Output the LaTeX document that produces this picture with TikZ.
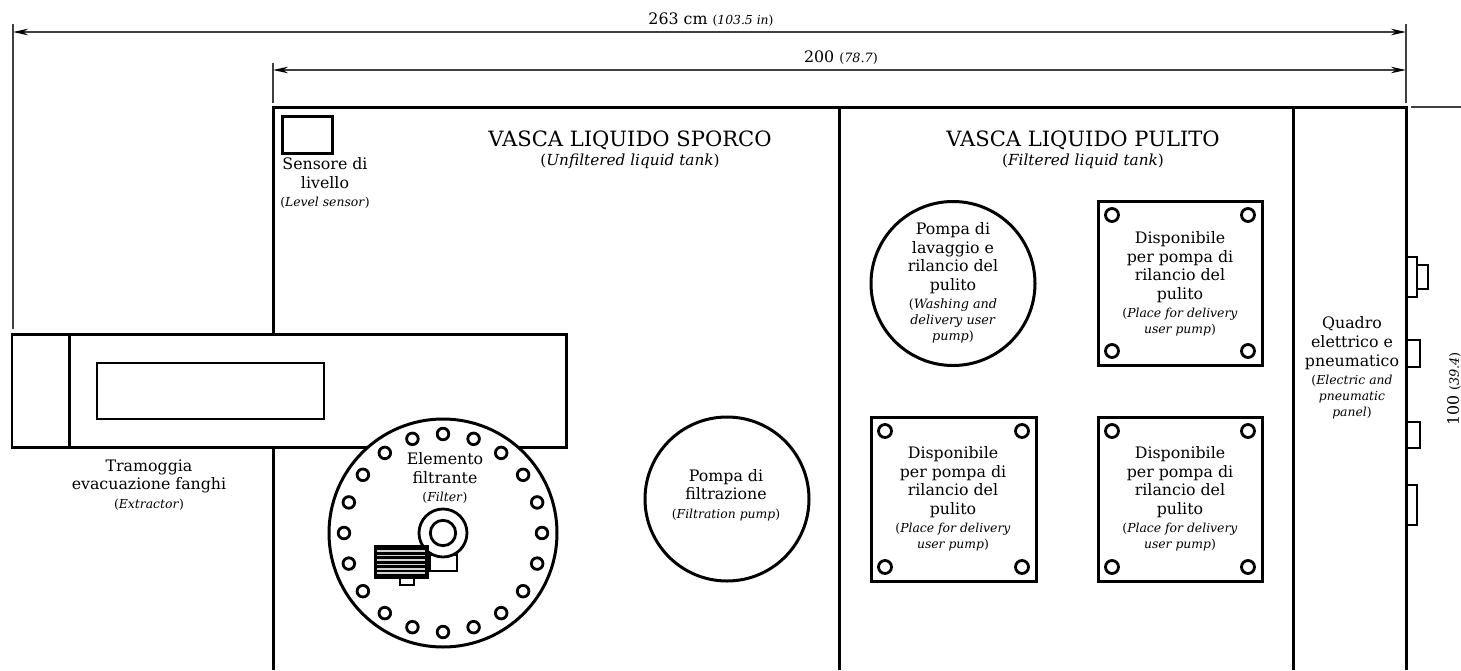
\documentclass[tikz,border=0pt]{standalone}
\usepackage{fontspec}
\setmainfont{DejaVu Serif}
\usetikzlibrary{arrows.meta}
\newcommand{\subtxt}[2][7.05]{{\fontsize{#1}{8.8}\selectfont #2}}
\newcommand{\headtxt}[1]{{\fontsize{12}{14}\selectfont #1}}
\begin{document}
\begin{tikzpicture}[x=0.02cm, y=-0.02cm]
            \tikzset{wall/.style={black, line width=0.06cm, line join=miter}}
            \tikzset{thinwall/.style={black, line width=0.056cm}}
            \tikzset{dimline/.style={black!75, line width=0.03cm}}
            \tikzset{dimarrow/.style={dimline, {Stealth[length=0.3cm, width=0.13cm, black]}-{Stealth[length=0.3cm, width=0.13cm, black]}}}
            \tikzset{lbl/.style={align=center, inner sep=0pt, font=\fontsize{9}{10.6}\selectfont}}
            \tikzset{hole/.style={thinwall, fill=white}}
            \useasboundingbox (0, 0) rectangle (1461, 670);
            % tank walls
            \draw[wall] (273, 333) -- (273, 107) -- (1406, 107) -- (1406, 670);
            \draw[wall] (273, 447) -- (273, 670);
            \draw[wall] (839, 107) -- (839, 670);
            \draw[wall] (1293, 107) -- (1293, 670);
            % extractor
            \draw[wall] (12, 334) rectangle (566, 447);
            \draw[wall] (69, 334) -- (69, 447);
            \draw[thinwall] (97, 363) rectangle (324, 419);
            % level sensor
            \draw[wall] (282, 116) rectangle (332, 153);
            % filter disc and its holes
            \coordinate (F) at (443, 533);
            \draw[wall, fill=white] (F) circle[radius=114];
            \foreach \a in {0, 18, ..., 342} {
                \draw[hole] (F) ++(\a:99) circle[radius=5.8];
            }
            % motor on the filter
            \draw[thinwall, fill=white] (430, 555) rectangle (457, 571);
            \draw[thinwall, fill=white] (400, 577) rectangle (414, 585);
            \draw[thinwall, fill=white] (F) circle[radius=24];
            \draw[thinwall] (F) circle[radius=12.7];
            \draw[wall, fill=black] (375, 546) rectangle (427, 577);
            \foreach \y in {551, 555.5, 560, 564.5, 569, 573} {
                \draw[gray!35, line width=0.034cm] (377, \y) -- (425, \y);
            }
            % pumps
            \draw[wall] (727, 499) circle[radius=82];
            \draw[wall] (953, 283.5) circle[radius=82];
            % plates
            \foreach \x/\y/\w in {1098/201/164, 871/417/165, 1098/417/164} {
                \draw[wall] (\x, \y) rectangle ++(\w, 164);
                \draw[hole] (\x+14, \y+14) circle[radius=6.5];
                \draw[hole] (\x+\w-14, \y+14) circle[radius=6.5];
                \draw[hole] (\x+14, \y+150) circle[radius=6.5];
                \draw[hole] (\x+\w-14, \y+150) circle[radius=6.5];
            }
            % panel fittings
            \draw[thinwall] (1406, 257) -- (1417, 257) -- (1417, 297) -- (1406, 297);
            \draw[thinwall] (1417, 265) -- (1428, 265) -- (1428, 289) -- (1417, 289);
            \draw[thinwall] (1406, 340) -- (1420, 340) -- (1420, 367) -- (1406, 367);
            \draw[thinwall] (1406, 422) -- (1420, 422) -- (1420, 448) -- (1406, 448);
            \draw[thinwall] (1406, 485) -- (1417, 485) -- (1417, 525) -- (1406, 525);
            % dimensions
            \coordinate (A) at (13, 32);
            \coordinate (B) at (1406, 32);
            \coordinate (C) at (273, 70);
            \coordinate (D) at (1406, 70);
            \draw[dimarrow] (A) -- (B);
            \draw[dimarrow] (C) -- (D);
            \draw[dimline] (13, 24) -- (13, 329);
            \draw[dimline] (1406, 24) -- (1406, 103);
            \draw[dimline] (273, 63) -- (273, 103);
            \draw[dimline] (1411, 107) -- (1461, 107);
            \node[lbl] (dimall) at (711, 20) {263 cm \subtxt{(\textit{103.5 in})}};
            \node[lbl] (dimtank) at (841, 58) {200 \subtxt[7.3]{(\textit{78.7})}};
            \node[lbl, rotate=90] (dimhigh) at (1454, 389) {100 \subtxt[7.3]{(\textit{39.4})}};
            % labels
            \node[lbl] (sensor) at (325, 183) {Sensore di\\livello\\\subtxt{(\textit{Level sensor})}};
            \node[lbl] (dirty) at (630, 150) {\headtxt{VASCA LIQUIDO SPORCO}\\\subtxt[8.7]{(\textit{Unfiltered liquid tank})}};
            \node[lbl] (clean) at (1083, 150) {\headtxt{VASCA LIQUIDO PULITO}\\\subtxt[8.7]{(\textit{Filtered liquid tank})}};
            \node[lbl] (extractor) at (149, 485) {Tramoggia\\evacuazione fanghi\\\subtxt{(\textit{Extractor})}};
            \node[lbl] (filter) at (445, 478) {Elemento\\filtrante\\\subtxt{(\textit{Filter})}};
            \node[lbl] (filtpump) at (726, 495) {Pompa di\\filtrazione\\\subtxt{(\textit{Filtration pump})}};
            \node[lbl] (washpump) at (953, 283) {Pompa di\\lavaggio e\\rilancio del\\pulito\\\subtxt[7.3]{(\textit{Washing and}}\\[-1.5pt]\subtxt[7.3]{\textit{delivery user}}\\[-1.5pt]\subtxt[7.3]{\textit{pump})}};
            \node[lbl] (placea) at (1180, 284) {Disponibile\\per pompa di\\rilancio del\\pulito\\\subtxt{(\textit{Place for delivery}}\\[-1.5pt]\subtxt{\textit{user pump})}};
            \node[lbl] (placeb) at (953, 499) {Disponibile\\per pompa di\\rilancio del\\pulito\\\subtxt{(\textit{Place for delivery}}\\[-1.5pt]\subtxt{\textit{user pump})}};
            \node[lbl] (placec) at (1180, 499) {Disponibile\\per pompa di\\rilancio del\\pulito\\\subtxt{(\textit{Place for delivery}}\\[-1.5pt]\subtxt{\textit{user pump})}};
            \node[lbl] (panel) at (1352, 368) {Quadro\\elettrico e\\pneumatico\\\subtxt{(\textit{Electric and}}\\[-1.5pt]\subtxt{\textit{pneumatic}}\\[-1.5pt]\subtxt{\textit{panel})}};
        \end{tikzpicture}
\end{document}
